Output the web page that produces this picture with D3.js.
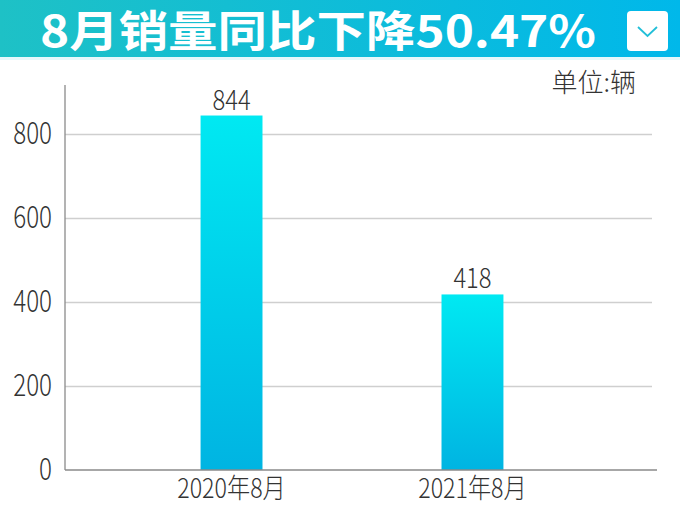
<!DOCTYPE html>
<html><head><meta charset="utf-8">
<script src="https://cdn.jsdelivr.net/npm/d3@7/dist/d3.min.js"></script>
<style>body{margin:0;background:#fff}svg{display:block}</style>
</head><body>
<script>
const categories = ["2020年8月", "2021年8月"];
const values = [844, 418];
const yTicks = [0, 200, 400, 600, 800];
const title = "8月销量同比下降50.47%";
const unitLabel = "单位:辆";

const W = 680, H = 510;
const FONT = "'Noto Sans CJK SC', 'Noto Sans', sans-serif";
const svg = d3.select("body").append("svg").attr("width", W).attr("height", H);
const defs = svg.append("defs");
const hg = defs.append("linearGradient").attr("id", "hg").attr("x1", 0).attr("x2", 1).attr("y1", 0).attr("y2", 0);
hg.append("stop").attr("offset", "0%").attr("stop-color", "#1ec1c6");
hg.append("stop").attr("offset", "100%").attr("stop-color", "#00b8ea");
const bg = defs.append("linearGradient").attr("id", "bg").attr("x1", 0).attr("x2", 0).attr("y1", 0).attr("y2", 1);
bg.append("stop").attr("offset", "0%").attr("stop-color", "#00e9f2");
bg.append("stop").attr("offset", "100%").attr("stop-color", "#00b4e2");

// header
svg.append("rect").attr("x", 0).attr("y", 0).attr("width", W).attr("height", 57).attr("fill", "url(#hg)");
svg.append("rect").attr("x", 0).attr("y", 57).attr("width", W).attr("height", 3).attr("fill", "#e6f8fb");
const tg = svg.append("g").attr("transform", "translate(40,47)");
const tt = tg.append("text").attr("x", 0).attr("y", 0).attr("fill", "#fff")
  .attr("font-family", FONT).attr("font-weight", 700)
  .attr("font-size", 43).text(title);
const natural = tt.node().getComputedTextLength();
if (natural > 0) tt.attr("transform", `scale(${556 / natural},1)`);
svg.append("rect").attr("x", 627).attr("y", 11).attr("width", 41).attr("height", 40).attr("rx", 4).attr("fill", "#fff");
svg.append("path").attr("d", "M638,27 L647.5,36 L657,27").attr("fill", "none").attr("stroke", "#22bfd8").attr("stroke-width", 1.8);

const pLeft = 65, pRight = 652, pTop = 85, pBottom = 470;
const x = d3.scaleBand().domain(categories).range([56, 648]).paddingInner(0.743).paddingOuter(0.6);
const y = d3.scaleLinear().domain([0, 800]).range([pBottom, 134]);

// gridlines
const grid = svg.append("g").attr("transform", `translate(${pLeft},0)`)
  .call(d3.axisLeft(y).tickValues(yTicks.filter(d => d > 0)).tickSize(-(pRight - pLeft)).tickFormat(""));
grid.select(".domain").remove();
grid.selectAll("line").attr("stroke", "#cfcfcf").attr("stroke-width", 1.3);

// y tick labels
const yl = svg.append("g").attr("transform", `translate(52,-2)`)
  .call(d3.axisLeft(y).tickValues(yTicks).tickSize(0).tickPadding(0));
yl.select(".domain").remove();
yl.selectAll("text").attr("font-family", FONT).attr("font-weight", 200)
  .attr("font-size", 31).attr("fill", "#333").attr("dy", "0.36em")
  .attr("transform", "scale(0.78,1)");

// bars
svg.selectAll(".bar").data(values).enter().append("rect").attr("class", "bar")
  .attr("x", (d, i) => x(categories[i])).attr("width", x.bandwidth())
  .attr("y", d => y(d)).attr("height", d => y(0) - y(d)).attr("fill", "url(#bg)");

// value labels
const vg = svg.selectAll(".vl").data(values).enter().append("g").attr("class", "vl")
  .attr("transform", (d, i) => `translate(${x(categories[i]) + x.bandwidth() / 2},${y(d) - 6})`);
vg.append("text").attr("text-anchor", "middle").attr("font-family", FONT).attr("font-weight", 200)
  .attr("font-size", 28).attr("fill", "#333").attr("transform", "scale(0.85,1)").text(d => d);

// axes lines
svg.append("line").attr("x1", pLeft).attr("x2", pLeft).attr("y1", pTop).attr("y2", pBottom).attr("stroke", "#8a8a8a").attr("stroke-width", 1.3);
const xa = svg.append("g").attr("transform", `translate(0,${pBottom})`)
  .call(d3.axisBottom(x).tickSize(0).tickPadding(0));
xa.select(".domain").attr("d", `M${pLeft},0H657`).attr("stroke", "#8a8a8a").attr("stroke-width", 1.3);
xa.selectAll("text").attr("font-family", FONT).attr("font-weight", 200)
  .attr("font-size", 27).attr("fill", "#333").attr("y", 28).attr("dy", 0)
  .attr("transform", "scale(0.86,1)");

svg.append("text").attr("x", 636).attr("y", 92).attr("text-anchor", "end")
  .attr("font-family", FONT).attr("font-weight", 200)
  .attr("font-size", 26).attr("fill", "#333").text(unitLabel);
</script>
</body></html>
